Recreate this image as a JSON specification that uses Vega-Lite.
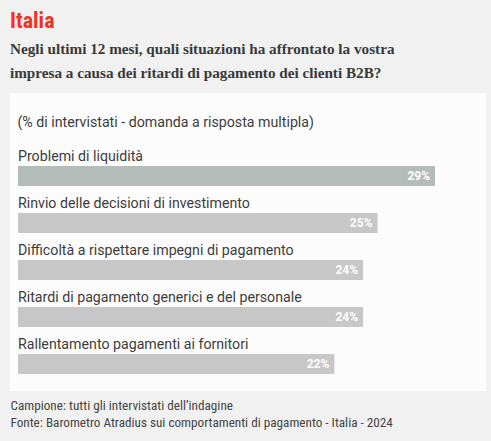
{
  "$schema": "https://vega.github.io/schema/vega-lite/v6.json",
  "width": 476,
  "height": 298,
  "autosize": "none",
  "padding": {"left": 10, "top": 93, "right": 5, "bottom": 50},
  "background": "#f0f1f0",
  "config": {"view": {"fill": "#fcfcfc", "stroke": null}},
  "title": {
    "text": "Italia",
    "subtitle": [
      "Negli ultimi 12 mesi, quali situazioni ha affrontato la vostra",
      "impresa a causa dei ritardi di pagamento dei clienti B2B?"
    ],
    "anchor": "start",
    "frame": "group",
    "offset": 11,
    "font": "Roboto Condensed, Liberation Sans Narrow, Roboto",
    "fontSize": 22,
    "fontWeight": "bold",
    "color": "#f5311f",
    "subtitleFont": "Liberation Serif",
    "subtitleFontSize": 15.2,
    "subtitleFontWeight": "bold",
    "subtitleColor": "#3a3a3a",
    "subtitleLineHeight": 24,
    "subtitlePadding": 9
  },
  "data": {
    "values": [
      {"cause": "Problemi di liquidità", "pct": 0.29},
      {"cause": "Rinvio delle decisioni di investimento", "pct": 0.25},
      {"cause": "Difficoltà a rispettare impegni di pagamento", "pct": 0.24},
      {"cause": "Ritardi di pagamento generici e del personale", "pct": 0.24},
      {"cause": "Rallentamento pagamenti ai fornitori", "pct": 0.22}
    ]
  },
  "encoding": {
    "y": {
      "field": "cause",
      "type": "nominal",
      "sort": null,
      "scale": {"paddingInner": 0, "paddingOuter": 0.67, "align": 0.944},
      "axis": {
        "labels": false,
        "ticks": false,
        "domain": false,
        "grid": false,
        "title": [
          "Campione: tutti gli intervistati dell’indagine",
          "Fonte: Barometro Atradius sui comportamenti di pagamento - Italia - 2024"
        ],
        "titleAngle": 0,
        "titleX": 0,
        "titleY": 316,
        "titleAlign": "left",
        "titleBaseline": "alphabetic",
        "titleFont": "Roboto Condensed, Liberation Sans Narrow, Roboto",
        "titleFontSize": 13.2,
        "titleFontWeight": "normal",
        "titleColor": "#444444",
        "titleLineHeight": 17
      }
    },
    "x": {
      "field": "pct",
      "type": "quantitative",
      "scale": {"domain": [0, 0.3], "range": [8, 439.4]},
      "axis": {
        "orient": "top",
        "labels": false,
        "ticks": false,
        "domain": false,
        "grid": false,
        "title": "(% di intervistati - domanda a risposta multipla)",
        "titleX": 7,
        "titleY": 33,
        "titleAlign": "left",
        "titleAnchor": "start",
        "titleBaseline": "alphabetic",
        "titleFont": "Roboto",
        "titleFontSize": 14.2,
        "titleFontWeight": "normal",
        "titleColor": "#3c3c3c"
      }
    }
  },
  "layer": [
    {
      "mark": {"type": "bar", "height": 20},
      "encoding": {
        "color": {
          "field": "cause",
          "type": "nominal",
          "scale": {
            "domain": [
              "Problemi di liquidità",
              "Rinvio delle decisioni di investimento",
              "Difficoltà a rispettare impegni di pagamento",
              "Ritardi di pagamento generici e del personale",
              "Rallentamento pagamenti ai fornitori"
            ],
            "range": ["#b3bcb9", "#c7c7c8", "#c7c7c8", "#c7c7c8", "#c7c7c8"]
          },
          "legend": null
        }
      }
    },
    {
      "mark": {"type": "text", "align": "left", "baseline": "alphabetic", "dy": -15, "font": "Roboto", "fontSize": 14.2, "color": "#3c3c3c"},
      "encoding": {
        "x": {"datum": 0},
        "text": {"field": "cause"}
      }
    },
    {
      "mark": {"type": "text", "align": "right", "baseline": "alphabetic", "dx": -5, "dy": 4, "font": "Roboto", "fontSize": 12, "fontWeight": "bold", "color": "#ffffff"},
      "encoding": {
        "text": {"field": "pct", "format": ".0%"}
      }
    }
  ]
}
